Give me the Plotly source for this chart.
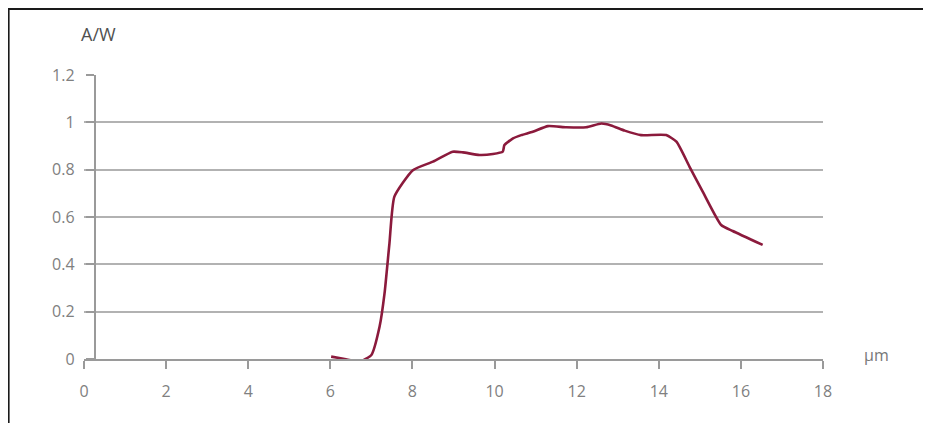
import plotly.graph_objects as go

wavelength_um = [6.02, 6.35, 6.71, 7.0, 7.2, 7.32, 7.44, 7.56, 8.01, 8.5, 8.98, 9.23, 9.63,
                 9.96, 10.2, 10.24, 10.45, 10.65, 10.93, 11.3, 11.75, 12.23, 12.6, 12.84,
                 13.17, 13.57, 14.18, 14.43, 14.75, 15.07, 15.52, 15.8, 16.53]
responsivity_aw = [0.01, 0.0, -0.011, 0.017, 0.137, 0.277, 0.489, 0.686, 0.798, 0.834, 0.876,
                   0.873, 0.862, 0.866, 0.876, 0.904, 0.932, 0.946, 0.96, 0.984, 0.979, 0.979,
                   0.995, 0.987, 0.965, 0.946, 0.946, 0.918, 0.812, 0.707, 0.566, 0.541, 0.482]

x_ticks = [0, 2, 4, 6, 8, 10, 12, 14, 16, 18]
y_ticks = [0, 0.2, 0.4, 0.6, 0.8, 1.0, 1.2]
y_tick_labels = ["0", "0.2", "0.4", "0.6", "0.8", "1", "1.2"]

FONT = "Open Sans, Noto Sans, sans-serif"

fig = go.Figure()
fig.add_trace(go.Scatter(
    x=wavelength_um, y=responsivity_aw, mode="lines",
    line=dict(color="#8b1a3c", width=2.6, shape="spline", smoothing=0.5),
    hoverinfo="skip", showlegend=False,
))

# plot area in page pixels: x 84.4..823.5, y 75..359 (page has an 8px body margin)
fig.update_layout(
    width=923, height=415,
    margin=dict(l=76, r=108, t=67, b=64),
    paper_bgcolor="white", plot_bgcolor="white",
    font=dict(family=FONT, size=16, color="#808080"),
    xaxis=dict(
        range=[0, 18], tickvals=x_ticks, ticktext=[str(v) for v in x_ticks],
        showgrid=False, zeroline=False,
        showline=True, linecolor="#9a9a9a", linewidth=1.6,
        ticks="outside", ticklen=8, tickcolor="#9a9a9a", tickwidth=1.6,
        ticklabelstandoff=9,
        fixedrange=True,
    ),
    yaxis=dict(
        range=[0, 1.2], tickvals=y_ticks, ticktext=y_tick_labels,
        anchor="free", position=(95 - 84.4) / 739,
        showgrid=True, gridcolor="#b2b2b2", gridwidth=1.8,
        zeroline=False,
        showline=True, linecolor="#9a9a9a", linewidth=1.6,
        ticks="outside", ticklen=8, tickcolor="#9a9a9a", tickwidth=1.6,
        ticklabelstandoff=8,
        fixedrange=True,
    ),
    shapes=[dict(type="rect", xref="paper", yref="paper",
                 x0=(9 - 84.4) / 739, x1=(925 - 84.4) / 739,
                 y0=-0.5, y1=(359 - 9) / 284,
                 line=dict(color="#1a1a1a", width=2), fillcolor="rgba(0,0,0,0)", layer="above")],
    annotations=[
        dict(text="A/W", xref="paper", yref="paper",
             x=(98.5 - 84.4) / 739, y=(359 - 34.5) / 284,
             showarrow=False, xanchor="center", yanchor="middle",
             font=dict(family=FONT, size=18, color="#505050")),
        dict(text="µm", xref="paper", yref="paper",
             x=(877 - 84.4) / 739, y=(359 - 355) / 284,
             showarrow=False, xanchor="center", yanchor="middle",
             font=dict(family=FONT, size=16, color="#777777")),
    ],
)

fig.write_html("out.html")
